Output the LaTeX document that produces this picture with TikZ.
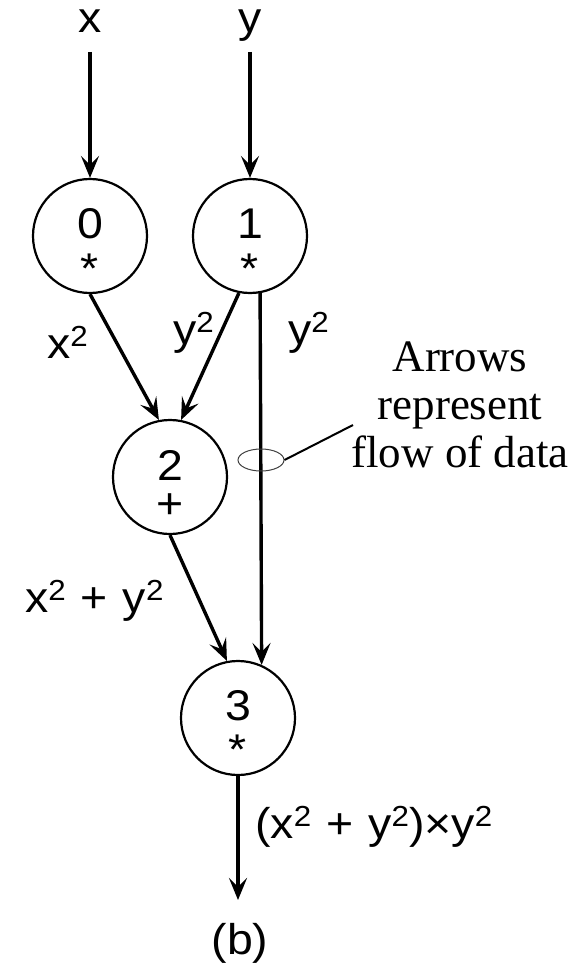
\documentclass[tikz,border=0pt]{standalone}
\usepackage{fontspec}
\setmainfont{Liberation Sans}[FakeStretch=1.08]
\newfontfamily\tnr{Liberation Serif}
\usetikzlibrary{arrows.meta,shapes.geometric}
\newcommand\sqr{\raisebox{12pt}{\fontsize{29}{29}\selectfont 2}}
\newcommand\pls{\hspace{15pt}+\hspace{15pt}}
\begin{document}
\begin{tikzpicture}[x=1pt,y=-1pt,
  sl/.style={inner sep=0pt, font=\fontsize{43}{48}\selectfont},
  opnode/.style={circle, draw, line width=2.2pt, minimum size=114pt, inner sep=0pt},
  arr/.style={line width=3.4pt, -{Stealth[length=22pt,width=18pt,inset=9pt]}},
  note/.style={inner sep=0pt, font=\tnr\fontsize{45}{48}\selectfont}]
\useasboundingbox (0,0) rectangle (583,971);

% inputs
\node[sl, anchor=base] (xin) at (90,33) {x};
\node[sl, anchor=base] (yin) at (250,33) {y};

% operation nodes
\node[opnode] (c0) at (90,236) {};
\node[opnode] (c1) at (250,236) {};
\node[opnode] (c2) at (170,477) {};
\node[opnode] (c3) at (238,718) {};

\node[sl, anchor=base] (n0) at ([yshift=-2pt]c0.center) {0};
\node[sl, anchor=base] (o0) at ([yshift=-47pt]c0.center) {*};
\node[sl, anchor=base] (n1) at ([yshift=-2pt]c1.center) {1};
\node[sl, anchor=base] (o1) at ([yshift=-47pt]c1.center) {*};
\node[sl, anchor=base] (n2) at ([yshift=-3pt]c2.center) {2};
\node[sl, anchor=base] (o2) at ([yshift=-41pt]c2.center) {+};
\node[sl, anchor=base] (n3) at ([yshift=-2pt]c3.center) {3};
\node[sl, anchor=base] (o3) at ([yshift=-46pt]c3.center) {*};

% connectors
\coordinate (out) at (238,900);
\draw[arr] ([yshift=-19pt]xin.base) -- (c0.north);
\draw[arr] ([yshift=-19pt]yin.base) -- (c1.north);
\draw[arr] (c0.south) -- (c2.101);
\draw[arr] (c1.-101) -- (c2.79);
\draw[arr] (c1.-80) -- (c3.66);
\draw[arr] (c2.south) -- (c3.101);
\draw[arr] (c3.south) -- (out);

% edge labels
\node[sl, anchor=base west] (l02) at (47,358) {x\sqr};
\node[sl, anchor=base west] (l12) at (173,344) {y\sqr};
\node[sl, anchor=base west] (l13) at (288,344) {y\sqr};
\node[sl, anchor=base west] (l23) at (25,612) {x\sqr\pls y\sqr};
\node[sl, anchor=base west] (l3o) at (255,838) {(x\sqr\pls y\sqr)×y\sqr};
\node[sl, anchor=base] (cap) at (240,954) {(b)};

% annotation
\node[ellipse, draw=black!75, line width=1pt, minimum width=46pt, minimum height=22pt, inner sep=0pt] (el) at (261,460) {};
\coordinate (ld) at (353,425);
\draw[line width=2pt] (el.east) -- (ld);
\node[note, anchor=base] (t1) at (460,371) {Arrows};
\node[note, anchor=base] (t2) at (460,419) {represent};
\node[note, anchor=base] (t3) at (460,467) {flow of data};
\end{tikzpicture}
\end{document}
